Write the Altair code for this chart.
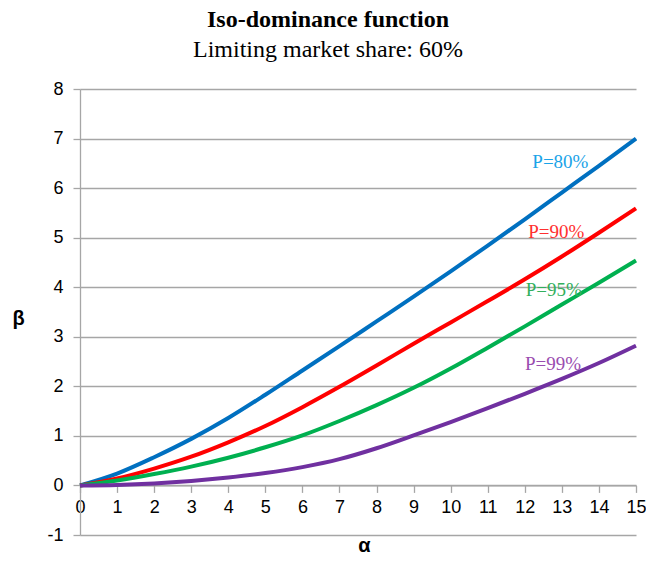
import altair as alt
import pandas as pd

alpha = list(range(16))
p80 = [0, 0.24, 0.57, 0.94, 1.36, 1.83, 2.32, 2.81, 3.31, 3.81, 4.32, 4.84, 5.37, 5.91, 6.45, 7.00]
p90 = [0, 0.14, 0.34, 0.58, 0.87, 1.20, 1.58, 1.99, 2.42, 2.86, 3.29, 3.72, 4.16, 4.62, 5.10, 5.59]
p95 = [0, 0.10, 0.23, 0.38, 0.56, 0.77, 1.01, 1.30, 1.62, 1.97, 2.36, 2.78, 3.21, 3.65, 4.09, 4.54]
p99 = [0, 0.01, 0.04, 0.09, 0.16, 0.25, 0.37, 0.53, 0.75, 1.01, 1.28, 1.56, 1.85, 2.15, 2.47, 2.82]
y_ticks = [-1, 0, 1, 2, 3, 4, 5, 6, 7, 8]

series_names = ["P=80%", "P=90%", "P=95%", "P=99%"]
line_colors = ["#0070c0", "#ff0000", "#00b050", "#7030a0"]
label_colors = ["#1aa3e8", "#ff3030", "#33b05c", "#9a4db0"]
label_x = [12.96, 12.85, 12.78, 12.76]
label_y = [6.52, 5.11, 3.95, 2.45]

rows = []
for name, vals in zip(series_names, [p80, p90, p95, p99]):
    for a, b in zip(alpha, vals):
        rows.append({"series": name, "alpha": a, "beta": b})
df = pd.DataFrame(rows)
lab = pd.DataFrame({"series": series_names, "x": label_x, "y": label_y, "c": label_colors})

grid_c = "#a6a6a6"
serif = "Liberation Serif, Times New Roman, serif"
sans = "Liberation Sans, Arial, sans-serif"
xs = alt.Scale(domain=[0, 15], nice=False, zero=False)
ys = alt.Scale(domain=[-1, 8], nice=False, zero=False)

x_axis = alt.Axis(
    values=alpha, offset=-49.6, grid=False, domainColor=grid_c, domainWidth=1.3,
    tickColor=grid_c, tickWidth=1.3, tickSize=7, labelPadding=6, labelOverlap=False,
    labelFlush=False, labelExpr="'' + datum.value",
    labelFont=sans, labelFontSize=18, labelColor="black",
    title="α", titleFont=sans, titleFontSize=20, titleFontWeight="bold",
    titleX=284, titleY=60, titleBaseline="middle", titleColor="black")
y_axis = alt.Axis(
    values=y_ticks, grid=True, gridColor=grid_c, gridWidth=1.3,
    domainColor=grid_c, domainWidth=1.3, tickColor=grid_c, tickWidth=1.3, tickSize=7,
    labelPadding=10, labelOverlap=False, labelFlush=False, labelExpr="'' + datum.value",
    labelFont=sans, labelFontSize=18, labelColor="black",
    title="β", titleAngle=0, titleFont=sans, titleFontSize=20,
    titleFontWeight="bold", titleX=-62, titleY=229, titleAlign="center",
    titleBaseline="middle", titleColor="black")

lines = alt.Chart(df).mark_line(strokeWidth=4, interpolate="monotone").encode(
    x=alt.X("alpha:Q", scale=xs, axis=x_axis),
    y=alt.Y("beta:Q", scale=ys, axis=y_axis),
    color=alt.Color("series:N", scale=alt.Scale(domain=series_names, range=line_colors), legend=None),
    detail="series:N",
)

labels = alt.Chart(lab).mark_text(font=serif, fontSize=19).encode(
    x=alt.X("x:Q", scale=xs, axis=x_axis),
    y=alt.Y("y:Q", scale=ys, axis=y_axis),
    text="series:N",
    color=alt.Color("c:N", scale=None),
)

chart = alt.layer(lines, labels).properties(
    width=556, height=446,
    autosize=alt.AutoSizeParams(type="none"),
    padding={"left": 72, "top": 81, "right": 10, "bottom": 22},
    title=alt.TitleParams(
        text="Iso-dominance function", subtitle="Limiting market share: 60%",
        font=serif, fontSize=24, fontWeight="bold", color="black",
        subtitleFont=serif, subtitleFontSize=24, subtitleColor="black",
        subtitleFontWeight="normal",
        anchor="middle", dx=-30, offset=18, subtitlePadding=6,
    ),
).configure_view(stroke=None).configure_title(
    font=serif, subtitleFont=serif,
)

chart.save("out.html", embed_options={"renderer": "svg", "actions": False})
